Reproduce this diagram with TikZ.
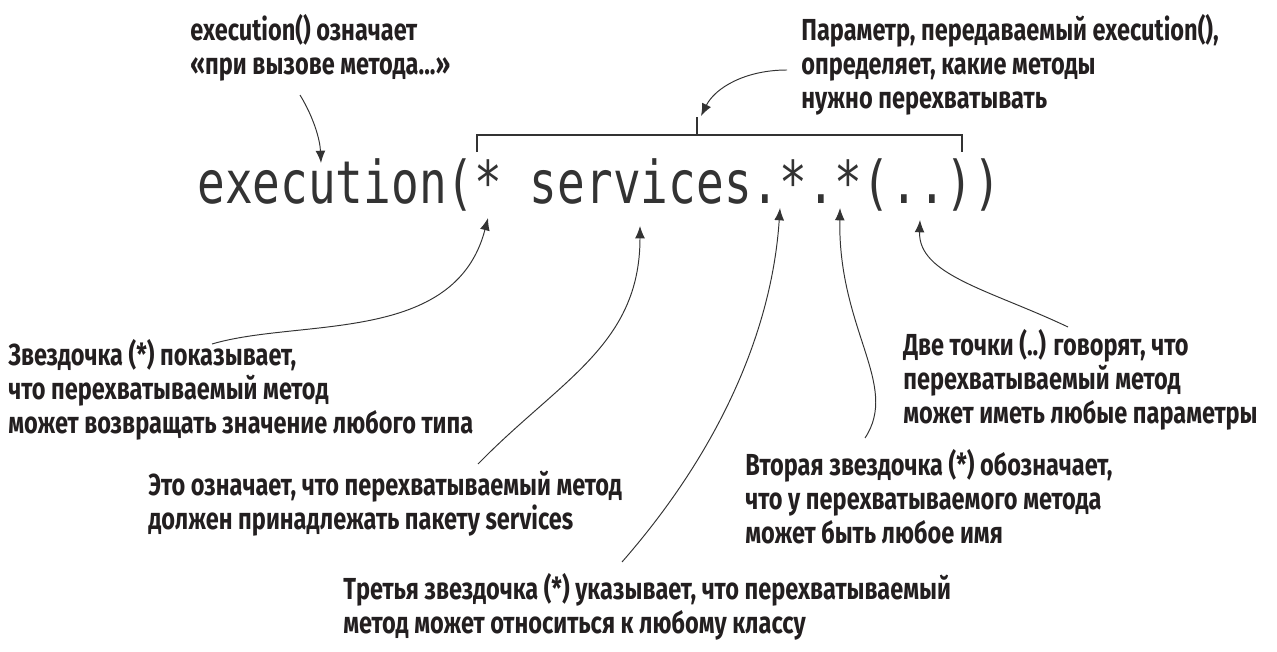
\documentclass[tikz,border=0pt]{standalone}
\usepackage{fontspec}
\usetikzlibrary{arrows.meta}
\newfontfamily\notefont{Fira Sans}[FakeStretch=0.775]
\newfontfamily\codefont{DejaVu Sans Mono}[FakeStretch=0.78]
\definecolor{notetext}{HTML}{231F20}
\definecolor{codetext}{HTML}{333333}
\definecolor{linegray}{HTML}{333333}

\tikzset{
  note/.style={anchor=north west, align=left, inner sep=0pt, text=notetext,
    font=\notefont\bfseries\fontsize{17.3}{19.3}\selectfont},
  pointer/.style={draw=linegray, line width=0.55pt, -{Latex[length=7pt,width=5.6pt]}},
}

\begin{document}
\begin{tikzpicture}[x=0.02cm, y=-0.02cm]
            \useasboundingbox (0,0) rectangle (1277,652);

            % the expression
            \node[anchor=base west, inner sep=0pt, text=codetext,
                  font=\codefont\fontsize{33.6}{40}\selectfont] (expr) at (197,203) {execution(* services.*.*(..))};

            % bracket over the parameter
            \coordinate (brL) at (477,152);
            \coordinate (brR) at (962,152);
            \coordinate (brM) at (697,135);
            \coordinate (brTop) at (697,117);
            \draw[linegray, line width=1.2pt] (brL) |- (brR |- brM) -- (brR);
            \draw[linegray, line width=1.2pt] (brM) -- (brTop);

            % notes
            \node[note] (execNote) at (190,14) {execution() означает\\«при вызове метода...»};
            \node[note] (paramNote) at (801,14) {Параметр, передаваемый execution(),\\определяет, какие методы\\нужно перехватывать};
            \node[note] (retNote) at (8,339) {Звездочка (*) показывает,\\что перехватываемый метод\\может возвращать значение любого типа};
            \node[note] (pkgNote) at (148,471) {Это означает, что перехватываемый метод\\должен принадлежать пакету services};
            \node[note] (classNote) at (343,573) {Третья звездочка (*) указывает, что перехватываемый\\метод может относиться к любому классу};
            \node[note] (nameNote) at (745,449) {Вторая звездочка (*) обозначает,\\что у перехватываемого метода\\может быть любое имя};
            \node[note] (argsNote) at (903,329) {Две точки (..) говорят, что\\перехватываемый метод\\может иметь любые параметры};

            % arrow ends
            \coordinate (execFrom) at (300,95);
            \coordinate (execTip) at (321,163);
            \coordinate (paramFrom) at (787,70);
            \coordinate (paramTip) at (701,116);
            \coordinate (retFrom) at (212,344);
            \coordinate (retTip) at (488,218);
            \coordinate (pkgFrom) at (478,464);
            \coordinate (pkgTip) at (640,226);
            \coordinate (classFrom) at (622,562);
            \coordinate (classTip) at (780,208);
            \coordinate (nameFrom) at (865,438);
            \coordinate (nameTip) at (840,208);
            \coordinate (argsFrom) at (1068,327);
            \coordinate (argsTip) at (920,220);

            \draw[pointer] (execFrom) .. controls (314,118) and (320,140) .. (execTip);
            \draw[pointer] (paramFrom) .. controls (745,70) and (715,88) .. (paramTip);
            \draw[pointer] (retFrom) .. controls (300,318) and (455,345) .. (retTip);
            \draw[pointer] (pkgFrom) .. controls (560,380) and (640,345) .. (pkgTip);
            \draw[pointer] (classFrom) .. controls (720,450) and (772,330) .. (classTip);
            \draw[pointer] (nameFrom) .. controls (900,385) and (838,330) .. (nameTip);
            \draw[pointer] (argsFrom) .. controls (990,290) and (918,275) .. (argsTip);
        \end{tikzpicture}
\end{document}
